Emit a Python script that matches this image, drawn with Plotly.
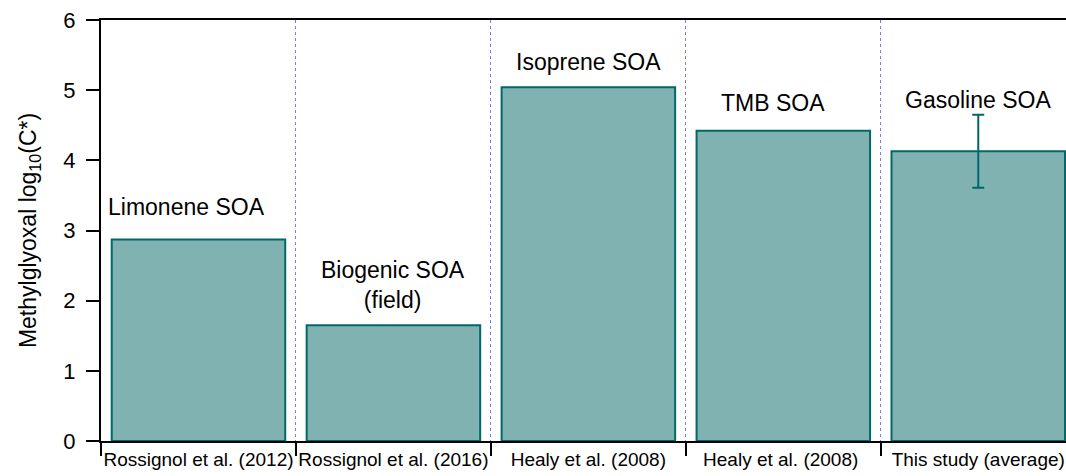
import plotly.graph_objects as go

# data
studies = ['Rossignol et al. (2012)', 'Rossignol et al. (2016)', 'Healy et al. (2008)',
           'Healy et al. (2008) ', 'This study (average)']
soa_labels = ['Limonene SOA', 'Biogenic SOA<br>(field)', 'Isoprene SOA', 'TMB SOA', 'Gasoline SOA']
log_cstar = [2.87, 1.65, 5.04, 4.42, 4.13]
err_study = 'This study (average)'
err_value = 4.13
err_size = 0.52

fill_color = 'rgb(128,178,178)'
edge_color = 'rgb(0,104,104)'
font_family = 'Liberation Sans, Arial, sans-serif'

fig = go.Figure()

fig.add_trace(go.Bar(
    x=studies,
    y=log_cstar,
    width=0.89,
    marker=dict(color=fill_color, line=dict(color=edge_color, width=2)),
    showlegend=False,
))

# error bar only on this study's average
fig.add_trace(go.Scatter(
    x=[err_study], y=[err_value], mode='markers',
    marker=dict(size=1, color='rgba(0,0,0,0)'),
    error_y=dict(type='data', array=[err_size], color=edge_color,
                 thickness=2, width=6),
    showlegend=False, hoverinfo='skip',
))

# text labels above each bar (pixel offsets only)
label_shift = [18, 10, 10, 13, 36]
label_xshift = [-12, 0, 0, -10, 0]
for s, lab, v, ys, xs in zip(studies, soa_labels, log_cstar, label_shift, label_xshift):
    fig.add_annotation(x=s, y=v, text=lab, showarrow=False, yanchor='bottom',
                       yshift=ys, xshift=xs,
                       font=dict(size=23, color='black', family=font_family))

fig.update_layout(
    width=1066, height=476,
    margin=dict(l=101, r=0, t=20, b=35),
    plot_bgcolor='white', paper_bgcolor='white',
    font=dict(family=font_family, color='black'),
)

fig.update_xaxes(
    type='category',
    range=[-0.5, 4.45],
    tickson='boundaries', tickangle=0, automargin=False,
    ticks='outside', ticklen=13, tickwidth=2, tickcolor='black',
    showline=True, linecolor='black', linewidth=2, mirror=True,
    showgrid=True, gridcolor='#7a7aff', griddash='dot', gridwidth=1.3,
    tickfont=dict(size=19),
)

fig.update_yaxes(
    range=[0, 6], dtick=1, automargin=False,
    ticks='outside', ticklen=13, tickwidth=2, tickcolor='black',
    ticksuffix=' ',
    showline=True, linecolor='black', linewidth=2,
    showgrid=False, zeroline=False,
    tickfont=dict(size=22),
    title=dict(text='Methylglyoxal log<sub>10</sub>(C*)', font=dict(size=23), standoff=20),
)

# drop the default page margin so the figure sits at the window corner
fig.write_html('out.html', config={'displayModeBar': False},
               post_script="document.body.style.margin='0';document.body.style.overflow='hidden';")
